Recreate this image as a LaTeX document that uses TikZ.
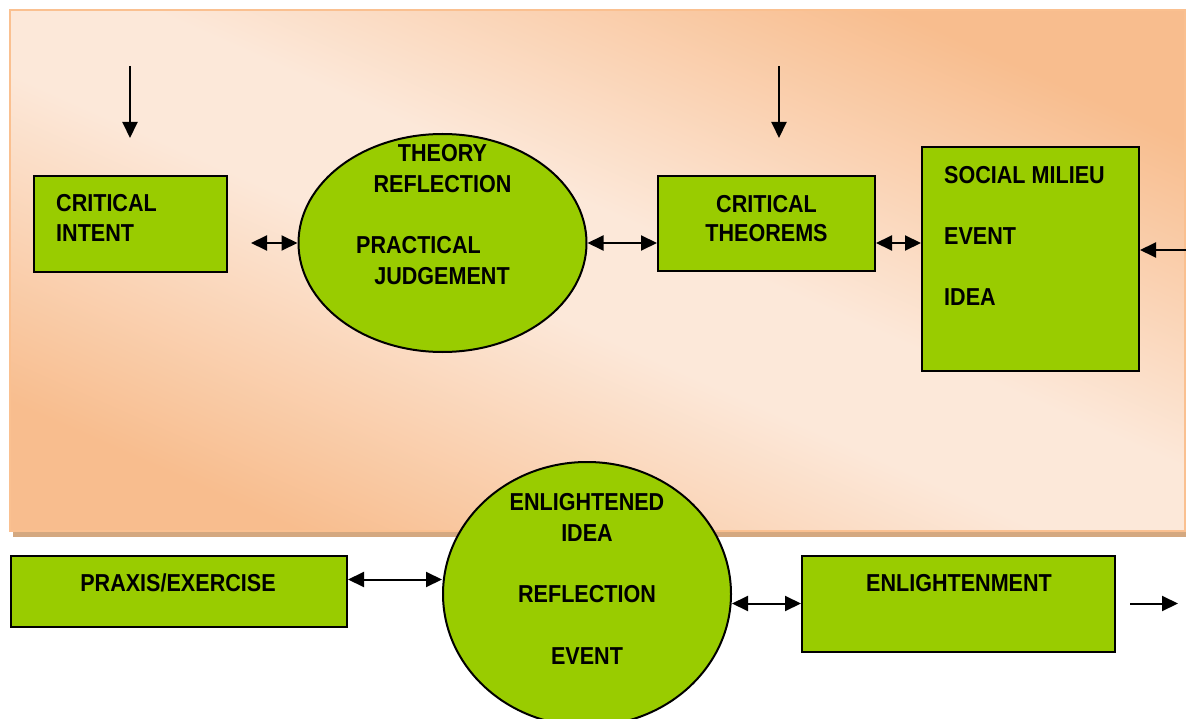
\documentclass[tikz,border=0pt]{standalone}
\usepackage{fontspec}
\setmainfont{Liberation Sans}[FakeStretch=0.88]
\usetikzlibrary{shapes.geometric,arrows.meta}
\definecolor{leaf}{HTML}{99CC00}
\definecolor{peachlight}{RGB}{252,232,217}
\definecolor{peachdark}{RGB}{248,189,142}
\definecolor{peachedge}{RGB}{250,192,144}
\definecolor{shadowtan}{RGB}{212,168,128}
\pgfdeclarehorizontalshading{peachband}{100bp}{color(0bp)=(peachdark); color(25bp)=(peachdark); color(46bp)=(peachlight); color(54bp)=(peachlight); color(75bp)=(peachdark); color(100bp)=(peachdark)}
\begin{document}
\begin{tikzpicture}[x=1pt,y=-1pt,
  font=\fontsize{24.5}{30}\selectfont\bfseries,
  box/.style={draw=black, line width=2pt, fill=leaf, rectangle, inner sep=0pt},
  disc/.style={draw=black, line width=2pt, fill=leaf, ellipse, inner sep=0pt},
  lbl/.style={inner sep=0pt, anchor=base},
  lblw/.style={inner sep=0pt, anchor=base west},
  flow/.style={-{Triangle[length=16pt,width=15pt]}, line width=2pt},
  dflow/.style={{Triangle[length=16pt,width=15pt]}-{Triangle[length=16pt,width=15pt]}, line width=2pt}]
\useasboundingbox (0,0) rectangle (1186,719);

% panel behind the upper row
\fill[shadowtan] (13,15) rectangle (1188,537);
\shade[shading=peachband, shading angle=66.1] (10,10) rectangle (1185,531);
\draw[peachedge, line width=1.5pt] (10,10) rectangle (1185,531);

% upper row
\node[box, minimum width=193pt, minimum height=96pt] (ci) at (130.5,224) {};
\node[lblw] (ci1) at (56,212) {CRITICAL};
\node[lblw] (ci2) at (56,242) {INTENT};

\node[disc, minimum width=288pt, minimum height=218pt] (e1) at (442.5,243) {};
\node[lbl] (e1a) at (442.5,162) {THEORY};
\node[lbl] (e1b) at (442.5,193) {REFLECTION};
\node[lblw] (e1c) at (356,254) {PRACTICAL};
\node[lbl] (e1d) at (442,285) {JUDGEMENT};

\node[box, minimum width=217pt, minimum height=95pt] (ct) at (766.5,223.5) {};
\node[lbl] (ct1) at (766.5,213) {CRITICAL};
\node[lbl] (ct2) at (766.5,242) {THEOREMS};

\node[box, minimum width=217pt, minimum height=224pt] (sm) at (1030.5,259) {};
\node[lblw] (sm1) at (944,184) {SOCIAL MILIEU};
\node[lblw] (sm2) at (944,245) {EVENT};
\node[lblw] (sm3) at (944,306) {IDEA};

% lower row
\node[box, minimum width=336pt, minimum height=71pt] (pr) at (179,591.5) {};
\node[lbl] (pr1) at (178,591) {PRAXIS/EXERCISE};

\node[disc, minimum width=288pt, minimum height=264pt] (e2) at (587,594) {};
\node[lbl] (e2a) at (587,510) {ENLIGHTENED};
\node[lbl] (e2b) at (587,541) {IDEA};
\node[lbl] (e2c) at (587,602) {REFLECTION};
\node[lbl] (e2d) at (587,664) {EVENT};

\node[box, minimum width=313pt, minimum height=96pt] (en) at (958.5,604) {};
\node[lbl] (en1) at (959,591) {ENLIGHTENMENT};

% free ends of connectors
\coordinate (t1s) at (130,66);
\coordinate (t1e) at (130,138);
\coordinate (t2s) at (779,66);
\coordinate (t2e) at (779,138);
\coordinate (ciout) at (251,243);
\coordinate (smin) at (1186,250);
\coordinate (enout) at (1130,603.5);
\coordinate (enend) at (1178,603.5);

% connectors
\draw[flow] (t1s) -- (t1e);
\draw[flow] (t2s) -- (t2e);
\draw[dflow] (ciout) -- (e1.west);
\draw[dflow] (e1.east) -- (e1.east -| ct.west);
\draw[dflow] (ct.east |- e1.east) -- (sm.west |- e1.east);
\draw[flow] (smin) -- (smin -| sm.east);
\draw[dflow] (pr.east |- 0,579.5) -- (e2.west |- 0,579.5);
\draw[dflow] (e2.east |- enout) -- (en.west |- enout);
\draw[flow] (enout) -- (enend);
\end{tikzpicture}
\end{document}
